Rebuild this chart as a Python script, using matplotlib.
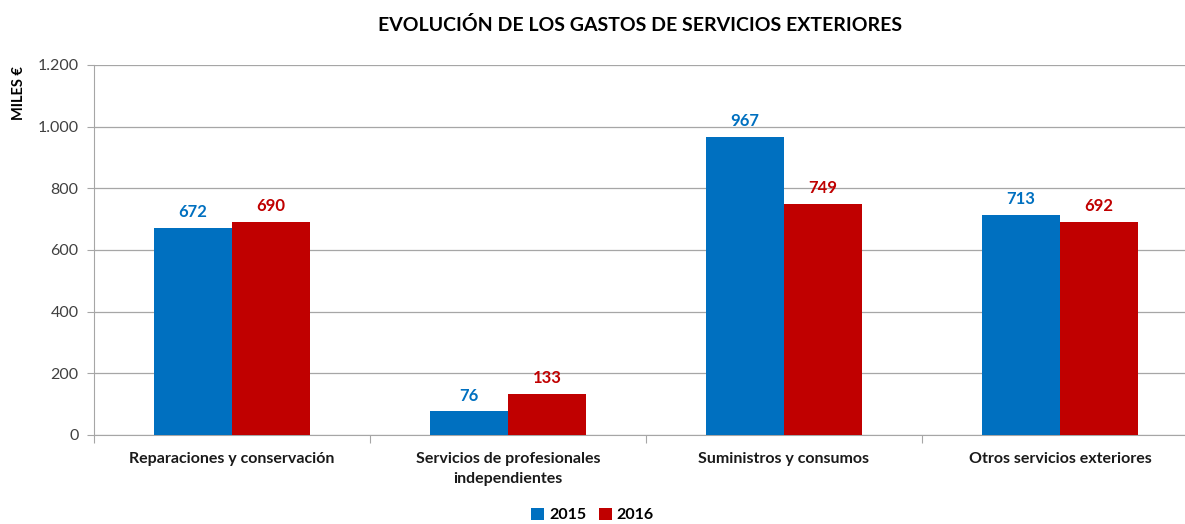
import matplotlib.pyplot as plt
import numpy as np
from matplotlib.ticker import FuncFormatter

plt.rcParams['font.family'] = ['Lato', 'DejaVu Sans']

# data
categories = ['Reparaciones y conservación', 'Servicios de profesionales\nindependientes',
              'Suministros y consumos', 'Otros servicios exteriores']
years = ['2015', '2016']
gastos2015 = [672, 76, 967, 713]
gastos2016 = [690, 133, 749, 692]
colors = ['#0070C0', '#C00000']

fig = plt.figure(figsize=(11.85, 5.24), dpi=100)
# the plot area runs slightly past the right edge, as in the original
ax = fig.add_axes([0.0793, 0.170, 0.9316, 0.706])

x = np.arange(len(categories))
w = 0.284
series = [gastos2015, gastos2016]
for i, vals in enumerate(series):
    pos = x + (i - 0.5) * w
    ax.bar(pos, vals, w, color=colors[i], label=years[i], zorder=3)
    for p, v in zip(pos, vals):
        ax.text(p, v + 25, str(v), ha='center', va='bottom', color=colors[i],
                fontsize=12, fontweight='bold')

ax.set_xlim(-0.5, len(categories) - 0.5)
ax.set_ylim(0, 1200)
ax.set_yticks(np.arange(0, 1201, 200))
ax.yaxis.set_major_formatter(FuncFormatter(lambda v, p: f'{int(v):,}'.replace(',', '.')))
ax.grid(axis='y', color='#A6A6A6', linewidth=0.9, zorder=0)

# category ticks at boundaries
ax.set_xticks(np.arange(-0.5, len(categories) + 0.5, 1))
ax.set_xticklabels([])
ax.set_xticks(x, minor=True)
ax.set_xticklabels(categories, minor=True, fontsize=11.5, fontweight='bold', color='#1a1a1a',
                   linespacing=1.6)
ax.tick_params(axis='x', which='minor', length=0, pad=12)
ax.tick_params(axis='x', which='major', length=6, color='#A6A6A6')
ax.tick_params(axis='y', length=5, color='#A6A6A6', labelsize=11.5, labelcolor='#404040', pad=6)

for s in ['top', 'right']:
    ax.spines[s].set_visible(False)
for s in ['left', 'bottom']:
    ax.spines[s].set_color('#A6A6A6')

ax.set_ylabel('MILES €', fontsize=10.5, fontweight='bold')
ax.yaxis.set_label_coords(-0.062, 0.925)

fig.suptitle('EVOLUCIÓN DE LOS GASTOS DE SERVICIOS EXTERIORES', fontsize=14,
             fontweight='bold', y=0.97, x=0.54)

fig.legend(loc='lower center', bbox_to_anchor=(0.5, -0.024), ncol=2, frameon=False,
           handlelength=0.8, handleheight=0.8, handletextpad=0.3, columnspacing=0.8,
           prop={'size': 11.5, 'weight': 'bold'})

fig.savefig('out.png', dpi=100)
